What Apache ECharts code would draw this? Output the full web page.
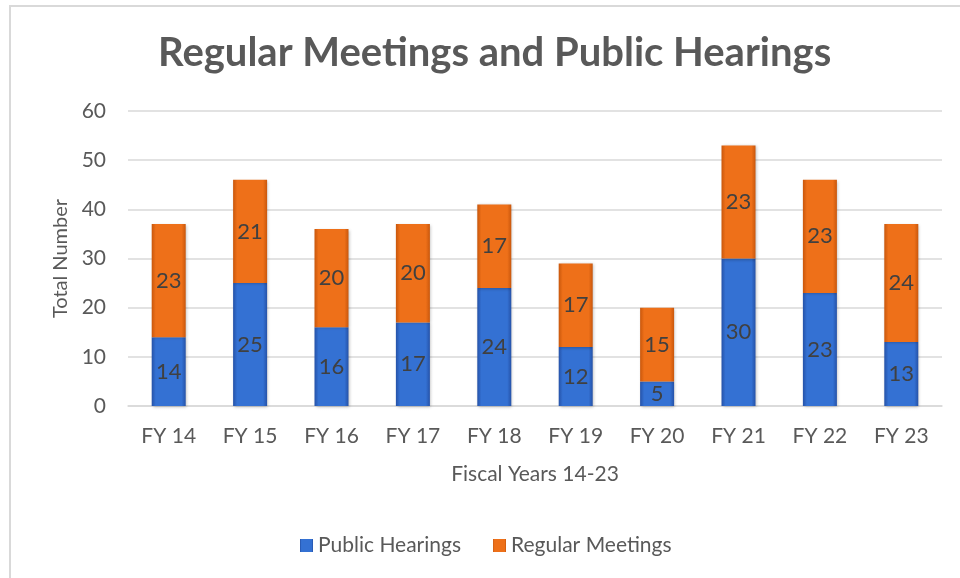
<!DOCTYPE html>
<html>
<head>
<meta charset="utf-8">
<script src="https://cdn.jsdelivr.net/npm/echarts@6/dist/echarts.min.js"></script>
<style>
  html, body { margin: 0; padding: 0; background: #fff; }
  #chart { width: 960px; height: 578px; }
</style>
</head>
<body>
<div id="chart"></div>
<script>
var years = ['FY 14', 'FY 15', 'FY 16', 'FY 17', 'FY 18', 'FY 19', 'FY 20', 'FY 21', 'FY 22', 'FY 23'];
var publicHearings = [14, 25, 16, 17, 24, 12, 5, 30, 23, 13];
var regularMeetings = [23, 21, 20, 20, 17, 17, 15, 23, 23, 24];
var yTicks = [0, 10, 20, 30, 40, 50, 60];

var FONT = 'Lato, "Noto Sans", sans-serif';

// bar fill with darker edges, looks a bit like the bevel in the original
function barFill(edge, mid) {
  return new echarts.graphic.LinearGradient(0, 0, 1, 0, [
    { offset: 0, color: edge },
    { offset: 0.12, color: mid },
    { offset: 0.88, color: mid },
    { offset: 1, color: edge }
  ]);
}

var chart = echarts.init(document.getElementById('chart'));

var labelStyle = {
  show: true,
  position: 'inside',
  color: '#404040',
  fontFamily: FONT,
  fontSize: 22
};

chart.setOption({
  backgroundColor: '#fff',
  animation: false,
  title: {
    text: 'Regular Meetings and Public Hearings',
    left: 153,
    top: 28,
    textStyle: {
      color: '#595959',
      fontFamily: FONT,
      fontWeight: 'bold',
      fontSize: 40
    }
  },
  graphic: [
    {
      type: 'rect',
      shape: { x: 10, y: 6, width: 1000, height: 700 },
      style: { fill: 'none', stroke: '#d9d9d9', lineWidth: 2 },
      silent: true
    }
  ],
  legend: {
    left: 295,
    top: 530,
    itemWidth: 13,
    itemHeight: 13,
    itemGap: 32,
    icon: 'rect',
    textStyle: { color: '#595959', fontFamily: FONT, fontSize: 21 },
    data: ['Public Hearings', 'Regular Meetings']
  },
  grid: { left: 128, right: 18, top: 111, bottom: 172 },
  xAxis: {
    type: 'category',
    data: years,
    name: 'Fiscal Years 14-23',
    nameLocation: 'middle',
    nameGap: 58,
    nameTextStyle: { color: '#595959', fontFamily: FONT, fontSize: 21 },
    axisLine: { show: true, lineStyle: { color: '#d9d9d9', width: 1.5 } },
    axisTick: { show: false },
    axisLabel: { color: '#595959', fontFamily: FONT, fontSize: 21, margin: 20 }
  },
  yAxis: {
    type: 'value',
    min: yTicks[0],
    max: yTicks[yTicks.length - 1],
    interval: 10,
    name: 'Total Number',
    nameLocation: 'middle',
    nameGap: 57,
    nameTextStyle: { color: '#595959', fontFamily: FONT, fontSize: 20 },
    axisLine: { show: false },
    axisTick: { show: false },
    axisLabel: { color: '#595959', fontFamily: FONT, fontSize: 21, margin: 22 },
    splitLine: { lineStyle: { color: '#d9d9d9', width: 1.5 } }
  },
  series: [
    {
      name: 'Public Hearings',
      type: 'bar',
      stack: 'total',
      barWidth: 34,
      data: publicHearings,
      itemStyle: {
        color: barFill('#2552a8', '#3471d3'),
        shadowColor: 'rgba(0,0,0,0.25)',
        shadowBlur: 3,
        shadowOffsetX: 1,
        shadowOffsetY: 1
      },
      label: labelStyle
    },
    {
      name: 'Regular Meetings',
      type: 'bar',
      stack: 'total',
      barWidth: 34,
      data: regularMeetings,
      itemStyle: {
        color: barFill('#c9570c', '#ee7019'),
        shadowColor: 'rgba(0,0,0,0.25)',
        shadowBlur: 3,
        shadowOffsetX: 1,
        shadowOffsetY: 1
      },
      label: labelStyle
    }
  ]
});
</script>
</body>
</html>
